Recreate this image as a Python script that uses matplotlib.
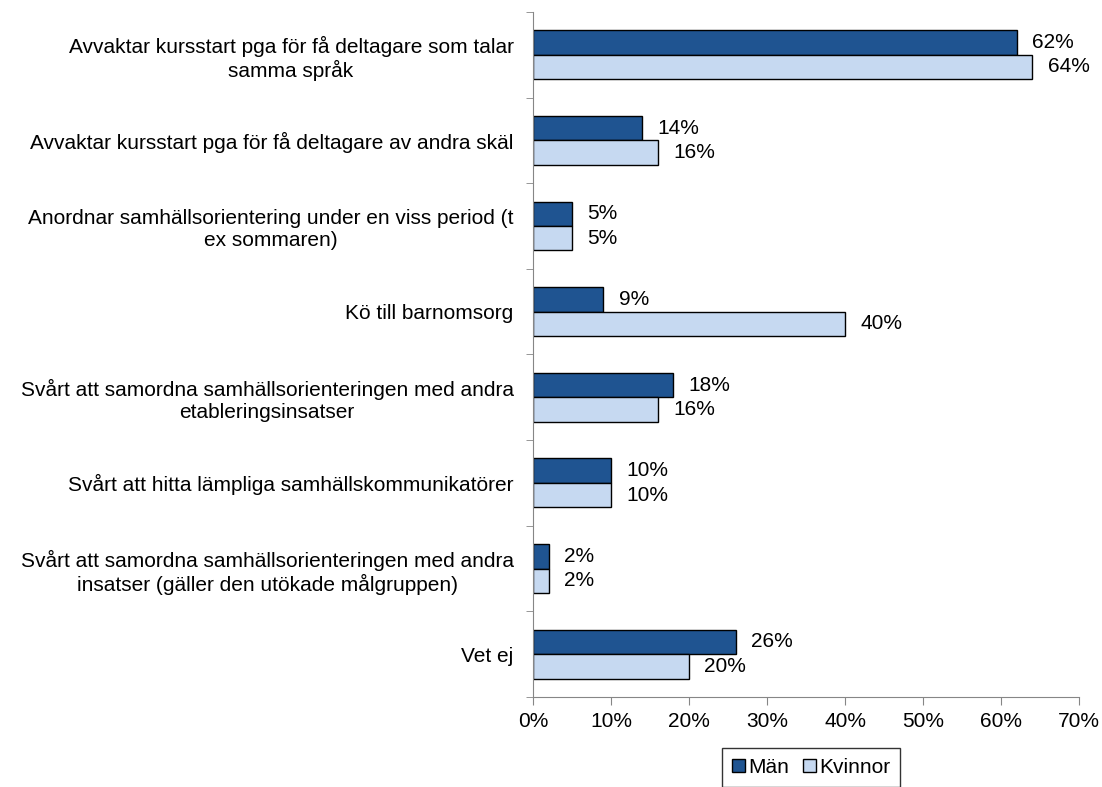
import matplotlib.pyplot as plt
import numpy as np

plt.rcParams['font.family'] = ['Liberation Sans', 'DejaVu Sans']

categories = [
    'Avvaktar kursstart pga för få deltagare som talar\nsamma språk',
    'Avvaktar kursstart pga för få deltagare av andra skäl',
    'Anordnar samhällsorientering under en viss period (t\nex sommaren)',
    'Kö till barnomsorg',
    'Svårt att samordna samhällsorienteringen med andra\netableringsinsatser',
    'Svårt att hitta lämpliga samhällskommunikatörer',
    'Svårt att samordna samhällsorienteringen med andra\ninsatser (gäller den utökade målgruppen)',
    'Vet ej',
]
man = [62, 14, 5, 9, 18, 10, 2, 26]
kvinnor = [64, 16, 5, 40, 16, 10, 2, 20]
xticks = [0, 10, 20, 30, 40, 50, 60, 70]

dark = '#1F5491'
light = '#C6D9F1'
grey = '#868686'
fs = 15

fig = plt.figure(figsize=(11.02, 7.87), dpi=100)
ax = fig.add_axes([0.4837, 0.1144, 0.4955, 0.8704])

y = np.arange(len(categories))
h = 0.285
b1 = ax.barh(y - h / 2, man, height=h, color=dark, edgecolor='black', linewidth=1, label='Män')
b2 = ax.barh(y + h / 2, kvinnor, height=h, color=light, edgecolor='black', linewidth=1, label='Kvinnor')

for bars, vals in ((b1, man), (b2, kvinnor)):
    for bar, v in zip(bars, vals):
        ax.annotate(f'{v}%', (bar.get_width(), bar.get_y() + bar.get_height() / 2),
                    xytext=(11, 0), textcoords='offset points',
                    ha='left', va='center', fontsize=fs)

ax.set_xlim(0, 70)
ax.set_ylim(len(categories) - 0.5, -0.5)
ax.set_xticks(xticks)
ax.set_xticklabels([f'{t}%' for t in xticks], fontsize=fs)
ax.set_yticks(y)
ax.set_yticklabels(categories, fontsize=fs, multialignment='center')
ax.set_yticks(np.arange(len(categories) + 1) - 0.5, minor=True)
ax.tick_params(axis='y', which='major', length=0, pad=14)
ax.tick_params(axis='y', which='minor', length=5, color=grey, direction='out')
ax.tick_params(axis='x', length=6, color=grey, direction='out', pad=5)

for s in ('top', 'right'):
    ax.spines[s].set_visible(False)
for s in ('left', 'bottom'):
    ax.spines[s].set_color(grey)

leg = fig.legend(handles=[b1, b2], loc='upper center', bbox_to_anchor=(0.736, 0.05),
                 ncol=2, fontsize=fs, frameon=True, fancybox=False,
                 handlelength=0.6, handleheight=0.6, handletextpad=0.15,
                 columnspacing=0.7, borderpad=0.5, borderaxespad=0)
leg.get_frame().set_edgecolor('black')
leg.get_frame().set_linewidth(1)

fig.savefig('out.png', dpi=100)
